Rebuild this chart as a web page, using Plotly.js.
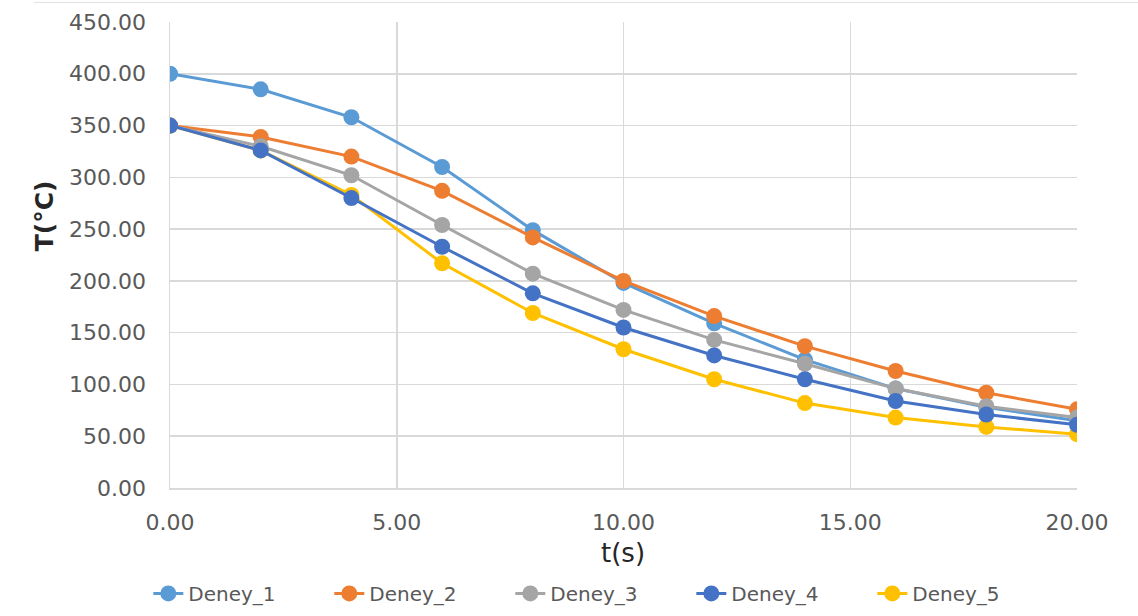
<!DOCTYPE html>
<html>
<head>
<meta charset="utf-8">
<script src="https://cdn.plot.ly/plotly-3.0.1.min.js"></script>
<style>html,body{margin:0;padding:0;background:#fff;}#chart{width:1138px;height:616px;}</style>
</head>
<body>
<div id="chart"></div>
<script>
const t = [0, 2, 4, 6, 8, 10, 12, 14, 16, 18, 20];
const deney1 = [400, 385, 358, 310, 249, 198, 159, 124, 96, 78, 65];
const deney2 = [350, 339, 320, 287, 242, 200, 166, 137, 113, 92, 76];
const deney3 = [350, 330, 302, 254, 207, 172, 143, 120, 96, 79, 68];
const deney4 = [350, 326, 280, 233, 188, 155, 128, 105, 84, 71, 61];
const deney5 = [350, 326, 283, 217, 169, 134, 105, 82, 68, 59, 52];
const names = ["Deney_1", "Deney_2", "Deney_3", "Deney_4", "Deney_5"];
const colors = ["#5B9BD5", "#ED7D31", "#A5A5A5", "#4472C4", "#FFC000"];
const series = [deney1, deney2, deney3, deney4, deney5];
const drawOrder = [4, 0, 1, 2, 3];

const traces = drawOrder.map(i => ({
  x: t, y: series[i], name: names[i], type: "scatter", mode: "lines+markers",
  line: {color: colors[i], width: 3},
  marker: {color: colors[i], size: 16},
  legendrank: i + 1
}));

const tickFont = {family: "DejaVu Sans", size: 22, color: "#595959"};
const layout = {
  width: 1138, height: 616,
  margin: {l: 170, r: 61, t: 22, b: 128, autoexpand: false},
  paper_bgcolor: "#fff", plot_bgcolor: "#fff",
  font: tickFont,
  xaxis: {
    range: [0, 20], tickvals: [0, 5, 10, 15, 20], tickformat: ".2f",
    showgrid: true, gridcolor: "#d9d9d9", gridwidth: 1.5,
    showline: true, linecolor: "#d9d9d9", linewidth: 1.5,
    zeroline: false, ticks: "", ticklabelstandoff: 14,
    tickfont: tickFont, automargin: false
  },
  yaxis: {
    range: [0, 450], dtick: 50, tickformat: ".2f",
    showgrid: true, gridcolor: "#d9d9d9", gridwidth: 1.5,
    showline: true, linecolor: "#d9d9d9", linewidth: 1.5,
    zeroline: false, ticks: "", ticklabelstandoff: 18,
    tickfont: tickFont, automargin: false
  },
  annotations: [
    {text: "t(s)", xref: "paper", yref: "paper", x: 0.499, y: -0.14, xanchor: "center", yanchor: "middle",
     showarrow: false, font: {family: "DejaVu Sans", size: 26, color: "#262626"}},
    {text: "<b>T(°C)</b>", xref: "paper", yref: "paper", x: -0.138, y: 0.585, xanchor: "center", yanchor: "middle",
     textangle: -90, showarrow: false, font: {family: "DejaVu Sans", size: 25, color: "#262626"}}
  ],
  showlegend: true,
  legend: {
    orientation: "h", x: 0.475, xanchor: "center", yref: "container", y: 0.005, yanchor: "bottom",
    font: {family: "DejaVu Sans", size: 20, color: "#595959"},
    entrywidth: 136, entrywidthmode: "pixels", traceorder: "normal"
  },
  shapes: [{type: "line", xref: "paper", yref: "paper", x0: -0.15, x1: 1.07, y0: 1.042, y1: 1.042,
            line: {color: "#e0e0e0", width: 1}}]
};
Plotly.newPlot("chart", traces, layout, {displayModeBar: false, staticPlot: true});
</script>
</body>
</html>
